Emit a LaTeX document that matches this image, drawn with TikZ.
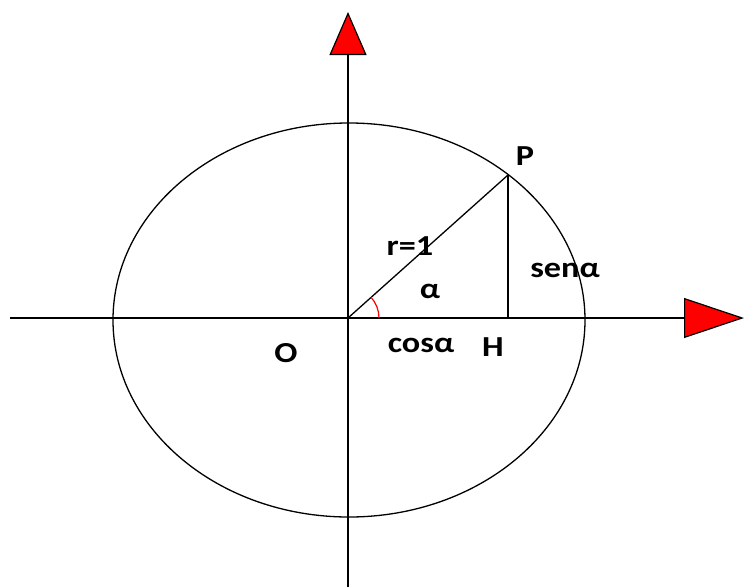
\documentclass[tikz,border=0pt]{standalone}
\usepackage{fontspec}
\setmainfont{Carlito}
\usetikzlibrary{arrows.meta,calc}
\begin{document}
\begin{tikzpicture}[x=1pt,y=-1pt,
  axis/.style={line width=1.4pt},
  lbl/.style={font=\fontsize{29}{31}\selectfont\bfseries, inner sep=0pt, xscale=1.18}]
\useasboundingbox (0,0) rectangle (744,587);
\coordinate (O) at (348,318);
\coordinate (P) at (508,175);
\coordinate (H) at (508,318);
\coordinate (xl) at (10,318);
\coordinate (xr) at (744,318);
\coordinate (yb) at (348,587);
\coordinate (yt) at (348,12);
\draw[line width=1.3pt] (349,320) ellipse [x radius=236, y radius=197];
\draw[axis,-{Triangle[width=40pt,length=60pt,fill=red,line width=1.2pt]}] (xl) -- (xr);
\draw[axis,-{Triangle[width=37pt,length=43pt,fill=red,line width=1.2pt]}] (yb) -- (yt);
\draw[line width=1.3pt] (O) -- (P);
\draw[line width=1.5pt] (P) -- (H);
\draw[red,line width=1.2pt] ($(O)+(31,0)$) arc[start angle=0,end angle=-42,radius=31];
\node[lbl] (lP) at (525,156) {P};
\node[lbl] (lr) at (410,246) {r=1};
\node[lbl] (ls) at (565,270) {senα};
\node[lbl] (la) at (430,291) {α};
\node[lbl] (lc) at (421,345) {cosα};
\node[lbl] (lH) at (493,347) {H};
\node[lbl] (lO) at (286,353) {O};
\end{tikzpicture}
\end{document}
